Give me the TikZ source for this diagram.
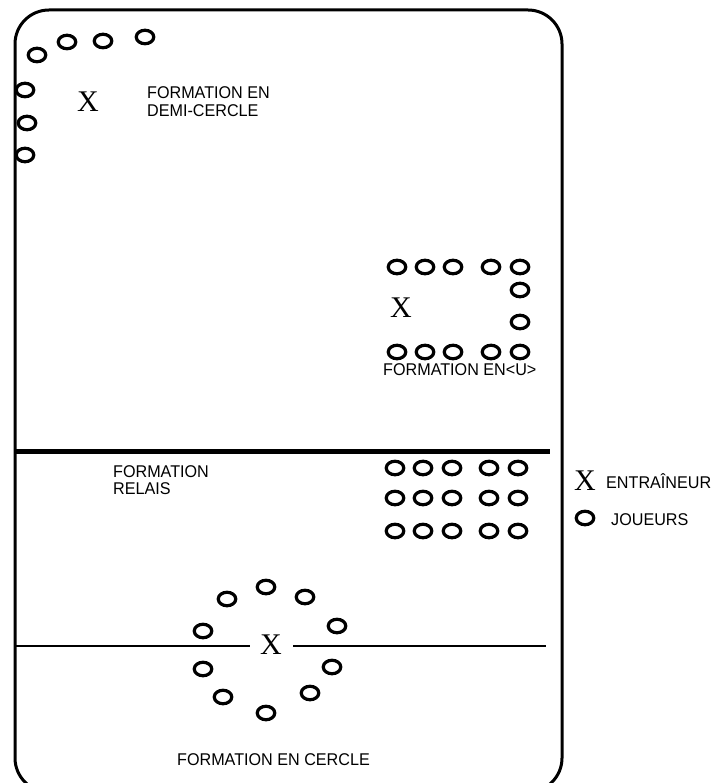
\documentclass[tikz,border=0pt]{standalone}
\usepackage{fontspec}
\setmainfont{Liberation Sans}
\newfontfamily\labelfont{Liberation Sans}[FakeStretch=0.95]
\newfontfamily\coachfont{Liberation Serif}
\usetikzlibrary{shapes.geometric}

\tikzset{
  player/.style={ellipse, draw, line width=3.2pt, inner sep=0pt,
                 minimum width=17.5pt, minimum height=13.5pt},
  coach/.style={inner sep=0pt, font=\coachfont\fontsize{30}{30}\selectfont},
  label/.style={inner sep=0pt, anchor=base west, font=\labelfont\fontsize{17}{18}\selectfont},
  frame/.style={line width=3pt, rounded corners=34pt},
  fieldline/.style={line width=5pt},
  midline/.style={line width=2.5pt}
}

\begin{document}
\begin{tikzpicture}[x=1pt, y=-1pt]
\useasboundingbox (0,0) rectangle (714,783);

% outer field
\draw[frame] (15,10) rectangle (562,792);

% dividing line between upper and lower halves
\coordinate (divL) at (15,451);
\coordinate (divR) at (550,451);
\draw[fieldline] (divL) -- (divR);

% ---- semicircle formation (top left)
\node[player] (s1) at (37,55) {};
\node[player] (s2) at (67,42) {};
\node[player] (s3) at (103,41) {};
\node[player] (s4) at (145,37) {};
\node[player] (s5) at (25,90) {};
\node[player] (s6) at (27,123) {};
\node[player] (s7) at (25,155) {};
\node[coach] (sx) at (88,102) {X};
\node[label] (st1) at (147,99) {FORMATION EN};
\node[label] (st2) at (147,117) {DEMI-CERCLE};

% ---- U formation
\foreach \i/\x in {1/397,2/425,3/453,4/491,5/520}{
  \node[player] (ut\i) at (\x,267) {};
  \node[player] (ub\i) at (\x,352) {};
}
\node[player] (ur1) at (520,290) {};
\node[player] (ur2) at (520,322) {};
\node[coach] (ux) at (401,308) {X};
\node[label] (ut) at (383,375) {FORMATION EN\textless U\textgreater};

% ---- relay formation
\foreach \r/\y in {1/468,2/498,3/531}{
  \foreach \i/\x in {1/395,2/423,3/452,4/489,5/518}{
    \node[player] (r\r\i) at (\x,\y) {};
  }
}
\node[label] (rt1) at (113,477) {FORMATION};
\node[label] (rt2) at (113,494) {RELAIS};

% ---- legend
\node[coach] (lx) at (585,481) {X};
\node[label] (lxt) at (606,488) {ENTRAÎNEUR};
\node[player] (lp) at (585,518) {};
\node[label] (lpt) at (611,525) {JOUEURS};

% ---- circle formation
\node[coach] (cx) at (271,645) {X};
\coordinate (cL) at (15,646);
\coordinate (cR) at (546,646);
\draw[midline] (cL) -- ([xshift=-21pt]cx.center |- cL);
\draw[midline] ([xshift=22pt]cx.center |- cR) -- (cR);
\node[player] (c1) at (266,587) {};
\node[player] (c2) at (227,599) {};
\node[player] (c3) at (305,597) {};
\node[player] (c4) at (203,631) {};
\node[player] (c5) at (337,626) {};
\node[player] (c6) at (203,669) {};
\node[player] (c7) at (332,667) {};
\node[player] (c8) at (223,697) {};
\node[player] (c9) at (310,693) {};
\node[player] (c10) at (266,713) {};
\node[label] (ct) at (177,765) {FORMATION EN CERCLE};
\end{tikzpicture}
\end{document}
